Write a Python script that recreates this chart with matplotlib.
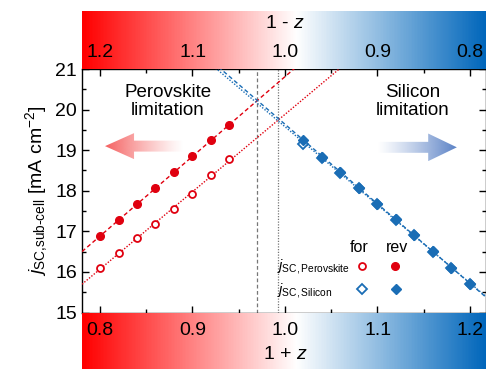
import numpy as np
import matplotlib
matplotlib.use("Agg")
import matplotlib.pyplot as plt
from matplotlib.colors import LinearSegmentedColormap
from matplotlib.patches import Polygon

plt.rcParams['font.family'] = 'Liberation Sans'
plt.rcParams['mathtext.fontset'] = 'custom'
plt.rcParams['mathtext.rm'] = 'Liberation Sans'
plt.rcParams['mathtext.it'] = 'Liberation Sans:italic'
plt.rcParams['mathtext.bf'] = 'Liberation Sans:bold'

# data (x = 1 + z)
x_pero = [0.80, 0.82, 0.84, 0.86, 0.88, 0.90, 0.92, 0.94]
pero_rev = [16.88, 17.27, 17.67, 18.07, 18.45, 18.86, 19.24, 19.62]
pero_for = [16.10, 16.46, 16.84, 17.19, 17.54, 17.92, 18.38, 18.79]

x_si = [1.02, 1.04, 1.06, 1.08, 1.10, 1.12, 1.14, 1.16, 1.18, 1.20]
si_rev = [19.25, 18.84, 18.46, 18.08, 17.68, 17.30, 16.91, 16.51, 16.10, 15.71]
si_for = [19.15, 18.81, 18.44, 18.06, 17.67, 17.29, 16.90, 16.50, 16.10, 15.71]

bottom_ticks = [0.8, 0.9, 1.0, 1.1, 1.2]
bottom_labels = ['0.8', '0.9', '1.0', '1.1', '1.2']
top_labels = ['1.2', '1.1', '1.0', '0.9', '0.8']

red = '#e0000f'
blue = '#1a6db5'
xmin, xmax = 0.7805, 1.217

W, H = 486, 369
fig = plt.figure(figsize=(W / 100, H / 100), dpi=100)

def rect(l, t, r, b):
    return [l / W, (H - b) / H, (r - l) / W, (b - t) / H]

ax = fig.add_axes(rect(82, 69, 485.5, 312.5))
ax_top = fig.add_axes(rect(82, 11, 486, 69))
ax_bot = fig.add_axes(rect(82, 312.5, 486, 369))

cmap = LinearSegmentedColormap.from_list(
    'rwb', [(0.0, '#ff0000'), (0.53, '#ffffff'), (1.0, '#0066bb')])
grad = np.linspace(0, 1, 400).reshape(1, -1)
for a in (ax_top, ax_bot):
    a.imshow(grad, aspect='auto', cmap=cmap, extent=[xmin, xmax, 0, 1])
    a.set_xlim(xmin, xmax)
    a.set_ylim(0, 1)
    a.axis('off')

for xt, lb in zip(bottom_ticks, top_labels):
    ax_top.text(xt, 0.29, lb, ha='center', va='center', fontsize=14)
ax_top.text(1.0, 0.79, '1 - $z$', ha='center', va='center', fontsize=14)
for xt, lb in zip(bottom_ticks, bottom_labels):
    ax_bot.text(xt, 0.68, lb, ha='center', va='center', fontsize=14)
ax_bot.text(1.0, 0.25, '1 + $z$', ha='center', va='center', fontsize=14)

# linear fits
xf = np.linspace(xmin, xmax, 200)
fits = {}
for key, xs, ys, c, ls in [('pr', x_pero, pero_rev, red, (0, (3, 2))),
                            ('pf', x_pero, pero_for, red, (0, (1, 1.2))),
                            ('sr', x_si, si_rev, blue, (0, (3, 2))),
                            ('sf', x_si, si_for, blue, (0, (1, 1.2)))]:
    p = np.polyfit(xs, ys, 1)
    fits[key] = p
    ax.plot(xf, np.polyval(p, xf), color=c, lw=1.0, ls=ls, zorder=3)

def cross(p1, p2):
    return (p2[1] - p1[1]) / (p1[0] - p2[0])

ax.axvline(cross(fits['pr'], fits['sr']), color='#777777', lw=0.9,
           ls=(0, (3, 2)), zorder=2)
ax.axvline(cross(fits['pf'], fits['sf']), color='#777777', lw=0.9,
           ls=(0, (1, 1.2)), zorder=2)

ax.plot(x_pero, pero_rev, 'o', color=red, ms=5.5, zorder=4)
ax.plot(x_pero, pero_for, 'o', mfc='white', mec=red, mew=1.3, ms=5, zorder=4)
ax.plot(x_si, si_for, 'D', mfc='white', mec=blue, mew=1.3, ms=5, zorder=4)
ax.plot(x_si, si_rev, 'D', color=blue, ms=5.5, zorder=5)

ax.set_xlim(xmin, xmax)
ax.set_ylim(15, 21)
ax.set_xticks(bottom_ticks)
ax.set_xticks(np.arange(0.8, 1.25, 0.05), minor=True)
ax.set_yticks(range(15, 22))
ax.set_yticks(np.arange(15, 21.01, 0.5), minor=True)
ax.tick_params(which='both', direction='in', top=True, right=True,
               labelbottom=False, labelsize=14, width=1)
ax.tick_params(which='major', length=5)
ax.tick_params(which='minor', length=3)
for s in ax.spines.values():
    s.set_linewidth(1)
ax.set_ylabel(r'$j_{\text{SC,sub-cell}}$ [mA cm$^{-2}$]', fontsize=14,
              labelpad=4)

ax.text(0.8735, 20.2, 'Perovskite\nlimitation', ha='center', va='center',
        fontsize=13.5, linespacing=1.1)
ax.text(1.1385, 20.2, 'Silicon\nlimitation', ha='center', va='center',
        fontsize=13.5, linespacing=1.1)

# gradient arrows
def grad_arrow(tail, base, tip, yc, hh, sh, color):
    verts = [(tail, yc - sh), (base, yc - sh), (base, yc - hh), (tip, yc),
             (base, yc + hh), (base, yc + sh), (tail, yc + sh)]
    poly = Polygon(verts, closed=True, fc='none', ec='none',
                   transform=ax.transData)
    ax.add_patch(poly)
    n = 200
    img = np.zeros((1, n, 4))
    img[..., :3] = matplotlib.colors.to_rgb(color)
    img[..., 3] = np.linspace(0, 1, n) ** 1.2
    lo, hi = min(tail, tip), max(tail, tip)
    if tip < tail:
        img = img[:, ::-1]
    im = ax.imshow(img, aspect='auto', extent=[lo, hi, yc - hh, yc + hh],
                   zorder=1, interpolation='bilinear')
    im.set_clip_path(poly)

grad_arrow(0.89, 0.8368, 0.8054, 19.1, 0.32, 0.135, '#f56060')
grad_arrow(1.10, 1.155, 1.186, 19.07, 0.34, 0.135, '#5b82c6')
ax.set_xlim(xmin, xmax)
ax.set_ylim(15, 21)

# legend
def axc(px, py):
    return ((px - 82) / 404, (312.5 - py) / 243.5)

ax.text(*axc(359, 248), 'for', transform=ax.transAxes, ha='center',
        va='center', fontsize=11.5)
ax.text(*axc(397, 248), 'rev', transform=ax.transAxes, ha='center',
        va='center', fontsize=11.5)
ax.plot(*axc(362, 266), 'o', mfc='white', mec=red, mew=1.3, ms=5,
        transform=ax.transAxes)
ax.plot(*axc(395, 266), 'o', color=red, ms=5.5, transform=ax.transAxes)
ax.plot(*axc(362, 289), 'D', mfc='white', mec=blue, mew=1.3, ms=5,
        transform=ax.transAxes)
ax.plot(*axc(396, 289), 'D', color=blue, ms=5.5, transform=ax.transAxes)
ax.text(*axc(277, 267), r'$j_{\mathrm{SC,Perovskite}}$', transform=ax.transAxes,
        ha='left', va='center', fontsize=10.5)
ax.text(*axc(277, 290), r'$j_{\mathrm{SC,Silicon}}$', transform=ax.transAxes,
        ha='left', va='center', fontsize=10.5)

fig.savefig('out.png', dpi=100)
